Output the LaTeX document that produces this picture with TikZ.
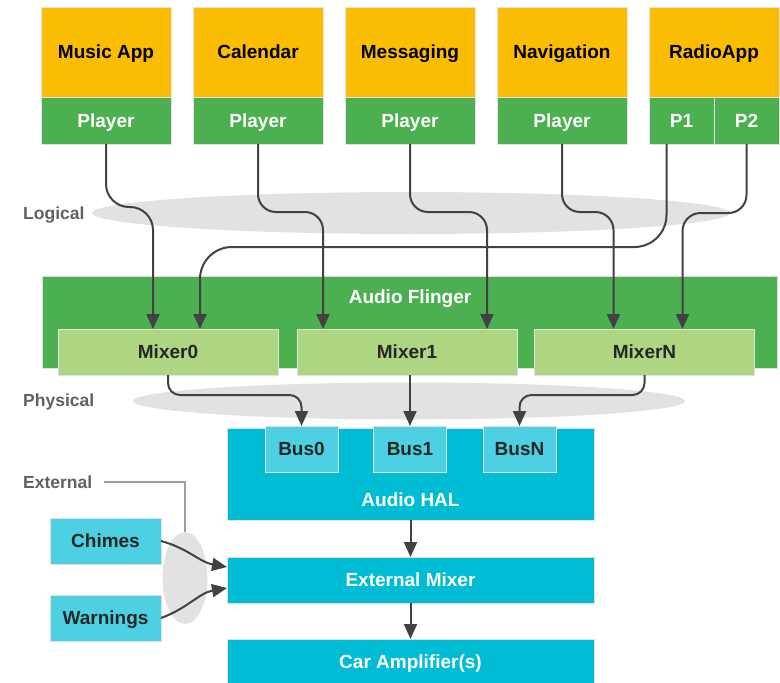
\documentclass[tikz,border=0pt]{standalone}
\usepackage{fontspec}
\setmainfont{Liberation Sans}
\usetikzlibrary{arrows.meta,shapes.geometric}
\definecolor{appyellow}{HTML}{FBBC04}
\definecolor{flgreen}{HTML}{4CAF50}
\definecolor{mixgreen}{HTML}{AED581}
\definecolor{halcyan}{HTML}{00BCD4}
\definecolor{buscyan}{HTML}{4DD0E1}
\definecolor{hazegray}{HTML}{E2E2E2}
\definecolor{wiregray}{HTML}{424242}
\definecolor{taggray}{HTML}{616161}
\definecolor{guidegray}{HTML}{9E9E9E}
\begin{document}
\begin{tikzpicture}[
        x=1pt, y=1pt,
        box/.style={inner sep=0pt, outer sep=0pt, draw=black!12, line width=0.6pt,
            font=\bfseries\fontsize{19}{22}\selectfont, text height=17.6pt, text depth=4pt},
        app/.style={box, fill=appyellow, text=black, minimum width=130, minimum height=90},
        player/.style={box, fill=flgreen, text=white, minimum width=130, minimum height=47},
        mixer/.style={box, fill=mixgreen, text=black!85, minimum width=220, minimum height=46},
        hal/.style={box, fill=halcyan, text=white, minimum width=367, minimum height=46},
        bus/.style={box, fill=buscyan, text=black!85, minimum width=73, minimum height=46},
        haze/.style={ellipse, fill=hazegray, inner sep=0pt},
        tag/.style={text=taggray, font=\bfseries\fontsize{17.5}{20}\selectfont, anchor=west, inner sep=0pt},
        arrow/.style={-{Triangle[width=13pt,length=15pt]}, draw=wiregray, line width=2pt},
        guide/.style={draw=guidegray, line width=1.5pt}
    ]
    \useasboundingbox (0,0) rectangle (780,-683);
    % Layers
    \node[haze, minimum width=638, minimum height=42] (logical) at (411,-213) {};
    \node[haze, minimum width=552, minimum height=37] (physical) at (409,-401) {};
    \node[haze, minimum width=45, minimum height=92] (extgrp) at (185,-578) {};
    \node[tag] (logtag) at (23,-215) {Logical};
    \node[tag] (phytag) at (23,-402) {Physical};
    \node[tag] (exttag) at (23,-482) {External};
    % Apps
    \node[app] (music) at (106,-52) {Music App};
    \node[app] (cal) at (258,-52) {Calendar};
    \node[app] (msg) at (410,-52) {Messaging};
    \node[app] (nav) at (562,-52) {Navigation};
    \node[app] (radio) at (714,-52) {RadioApp};
    \node[player] (musply) at (106,-120.5) {Player};
    \node[player] (calply) at (258,-120.5) {Player};
    \node[player] (msgply) at (410,-120.5) {Player};
    \node[player] (navply) at (562,-120.5) {Player};
    \node[player, minimum width=65] (p1) at (681.5,-120.5) {P1};
    \node[player, minimum width=65] (p2) at (746.5,-120.5) {P2};
    % Audio Flinger
    \node[box, fill=flgreen, minimum width=735, minimum height=92] (flinger) at (409.5,-322) {};
    \node[box, draw=none, text=white] (flingtag) at (410,-297) {Audio Flinger};
    \node[mixer] (mix0) at (168,-352) {Mixer0};
    \node[mixer] (mix1) at (407,-352) {Mixer1};
    \node[mixer] (mixN) at (644.5,-352) {MixerN};
    % HAL and below
    \node[hal, minimum height=92] (hal) at (410.5,-474) {};
    \node[box, draw=none, text=white] (haltag) at (410.5,-500) {Audio HAL};
    \node[bus] (bus0) at (301.5,-449) {Bus0};
    \node[bus] (bus1) at (410,-449) {Bus1};
    \node[bus] (busN) at (519.5,-449) {BusN};
    \node[hal] (extmix) at (410.5,-580) {External Mixer};
    \node[hal] (amp) at (410.5,-662) {Car Amplifier(s)};
    \node[bus, minimum width=111] (chimes) at (105.5,-541) {Chimes};
    \node[bus, minimum width=111] (warn) at (105.5,-618) {Warnings};
    % Edges
    \draw[arrow, rounded corners=23pt] (musply.south) -- ++(0,-63) -| ([xshift=-15pt]mix0.north);
    \draw[arrow, rounded corners=18pt] (calply.south) -- ++(0,-68) -| ([xshift=-84pt]mix1.north);
    \draw[arrow, rounded corners=18pt] (msgply.south) -- ++(0,-68) -| ([xshift=80pt]mix1.north);
    \draw[arrow, rounded corners=18pt] (navply.south) -- ++(0,-68) -| ([xshift=-31pt]mixN.north);
    \draw[arrow, rounded corners=18pt] (p2.south) -- ++(0,-69) -| ([xshift=38pt]mixN.north);
    \draw[arrow, rounded corners=32pt] ([xshift=-15pt]p1.south) -- ++(0,-103) -| ([xshift=32pt]mix0.north);
    \draw[arrow, rounded corners=12pt] (mix0.south) -- ++(0,-20) -| (bus0.north);
    \draw[arrow] (bus1.north |- mix1.south) -- (bus1.north);
    \draw[arrow, rounded corners=12pt] (mixN.south) -- ++(0,-20) -| (busN.north);
    \draw[arrow] (hal.south) -- (extmix.north);
    \draw[arrow] (extmix.south) -- (amp.north);
    \draw[arrow] (chimes.east) to[out=-15, in=170] ([yshift=13pt]extmix.west);
    \draw[arrow] (warn.east) to[out=20, in=190] ([yshift=-8pt]extmix.west);
    \draw[guide] ([xshift=12pt]exttag.east) -| (extgrp.north);
\end{tikzpicture}
\end{document}
